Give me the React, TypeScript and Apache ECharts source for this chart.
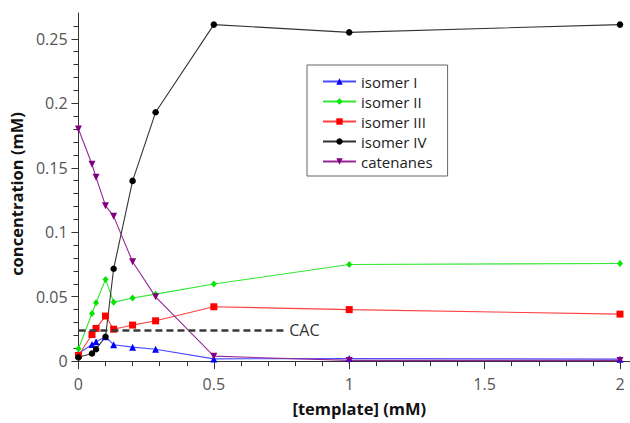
import React, { useEffect, useRef } from "react";
import * as echarts from "echarts";

const xValues = [0, 0.05, 0.065, 0.1, 0.13, 0.2, 0.285, 0.5, 1, 2];
const isomerI = [0.006, 0.013, 0.015, 0.019, 0.0127, 0.0109, 0.0093, 0.0018, 0.002, 0.0016];
const isomerII = [0.0096, 0.037, 0.0453, 0.0634, 0.0458, 0.049, 0.052, 0.0598, 0.075, 0.0758];
const isomerIII = [0.0044, 0.0207, 0.0254, 0.035, 0.0248, 0.028, 0.0313, 0.0422, 0.04, 0.0365];
const isomerIV = [0.003, 0.006, 0.0093, 0.019, 0.0717, 0.1398, 0.193, 0.261, 0.255, 0.261];
const catenanes = [0.18, 0.1527, 0.1426, 0.1206, 0.1123, 0.0771, 0.0499, 0.0039, 0.0006, 0.0006];

const cacValue = 0.024;
const cacEndX = 0.76;

const xMajorTicks = [0, 0.5, 1, 1.5, 2];
const xMinorTicks = [0.1, 0.2, 0.3, 0.4, 0.6, 0.7, 0.8, 0.9, 1.1, 1.2, 1.3, 1.4, 1.6, 1.7, 1.8, 1.9];
const yMajorTicks = [0, 0.05, 0.1, 0.15, 0.2, 0.25];
const yMinorTicks = [0.01, 0.02, 0.03, 0.04, 0.06, 0.07, 0.08, 0.09, 0.11, 0.12, 0.13, 0.14, 0.16, 0.17, 0.18, 0.19, 0.21, 0.22, 0.23, 0.24, 0.26];

const FONT = "Open Sans";

function pairs(ys: number[]) {
  return xValues.map((x, i) => [x, ys[i]]);
}

export default function App() {
  const ref = useRef<HTMLDivElement>(null);
  useEffect(() => {
    const chart = echarts.init(ref.current!, null, { renderer: "svg" });
    const mk = (
      name: string,
      ys: number[],
      lineColor: string,
      markColor: string,
      symbol: string,
      size: number | number[]
    ) => ({
      name,
      type: "line",
      data: pairs(ys),
      symbol,
      symbolSize: size,
      showSymbol: true,
      lineStyle: { color: lineColor, width: 1.1 },
      itemStyle: { color: markColor },
      emphasis: { disabled: true },
    });
    const series: any[] = [
      mk("isomer I", isomerI, "#4a4aff", "#0000ff", "triangle", 7),
      mk("isomer II", isomerII, "#33e633", "#00e600", "diamond", [6, 7]),
      mk("isomer III", isomerIII, "#ff4040", "#ff0000", "rect", 7),
      mk("isomer IV", isomerIV, "#333333", "#000000", "circle", 6.5),
      mk("catenanes", catenanes, "#952895", "#800080", "path://M0,0 L10,0 L5,10 Z", 7),
    ];
    series[0].markLine = {
      silent: true,
      symbol: "none",
      animation: false,
      lineStyle: { color: "#3a3a3a", type: [7, 4], width: 2.5 },
      label: {
        show: true,
        position: "end",
        formatter: "CAC",
        color: "#333",
        fontSize: 16,
        fontFamily: FONT,
        distance: 5,
      },
      data: [
        [
          { coord: [0, cacValue] },
          { coord: [cacEndX, cacValue] },
        ],
      ],
    };
    const axisLineStyle = { color: "#333", width: 1 };
    chart.setOption({
      animation: false,
      backgroundColor: "#fff",
      grid: { left: 74, top: 13, right: 0, bottom: 56, containLabel: false },
      legend: {
        orient: "vertical",
        left: 307,
        top: 65,
        padding: [9, 15, 7, 15],
        itemGap: 5,
        itemWidth: 33,
        itemHeight: 8,
        borderColor: "#666",
        borderWidth: 1,
        borderRadius: 0,
        textStyle: { fontSize: 15, color: "#222", fontFamily: FONT, lineHeight: 14 },
        data: ["isomer I", "isomer II", "isomer III", "isomer IV", "catenanes"],
      },
      xAxis: [
        {
          type: "value",
          min: -0.007,
          max: 2.037,
          splitLine: { show: false },
          axisLine: { lineStyle: axisLineStyle },
          axisTick: { customValues: xMajorTicks, length: 8, lineStyle: axisLineStyle },
          axisLabel: {
            customValues: xMajorTicks,
            fontSize: 16,
            color: "#555",
            fontFamily: FONT,
            margin: 9,
          },
          name: "[template] (mM)",
          nameLocation: "middle",
          nameGap: 33,
          nameTextStyle: {
            fontSize: 16.5,
            fontWeight: "bold",
            color: "#111",
            fontFamily: FONT,
            padding: [0, 0, 0, 12],
          },
        },
        {
          type: "value",
          min: -0.007,
          max: 2.037,
          position: "bottom",
          splitLine: { show: false },
          axisLine: { show: false },
          axisTick: { customValues: xMinorTicks, length: 5, lineStyle: axisLineStyle },
          axisLabel: { show: false },
        },
      ],
      yAxis: [
        {
          type: "value",
          min: -0.0045,
          max: 0.27,
          splitLine: { show: false },
          axisLine: { show: true, lineStyle: axisLineStyle },
          axisTick: { show: true, customValues: yMajorTicks, length: 7, lineStyle: axisLineStyle },
          axisLabel: {
            customValues: yMajorTicks,
            fontSize: 16,
            color: "#555",
            fontFamily: FONT,
            margin: 9,
          },
          name: "concentration (mM)",
          nameLocation: "middle",
          nameGap: 48,
          nameRotate: 90,
          nameTextStyle: {
            fontSize: 16.5,
            fontWeight: "bold",
            color: "#111",
            fontFamily: FONT,
            padding: [0, 8, 0, 0],
          },
        },
        {
          type: "value",
          min: -0.0045,
          max: 0.27,
          position: "left",
          splitLine: { show: false },
          axisLine: { show: false },
          axisTick: { show: true, customValues: yMinorTicks, length: 5, lineStyle: axisLineStyle },
          axisLabel: { show: false },
        },
      ],
      series,
    });
    return () => chart.dispose();
  }, []);
  return (
    <div
      ref={ref}
      style={{ position: "fixed", left: 0, top: 0, width: 630, height: 423 }}
    />
  );
}
